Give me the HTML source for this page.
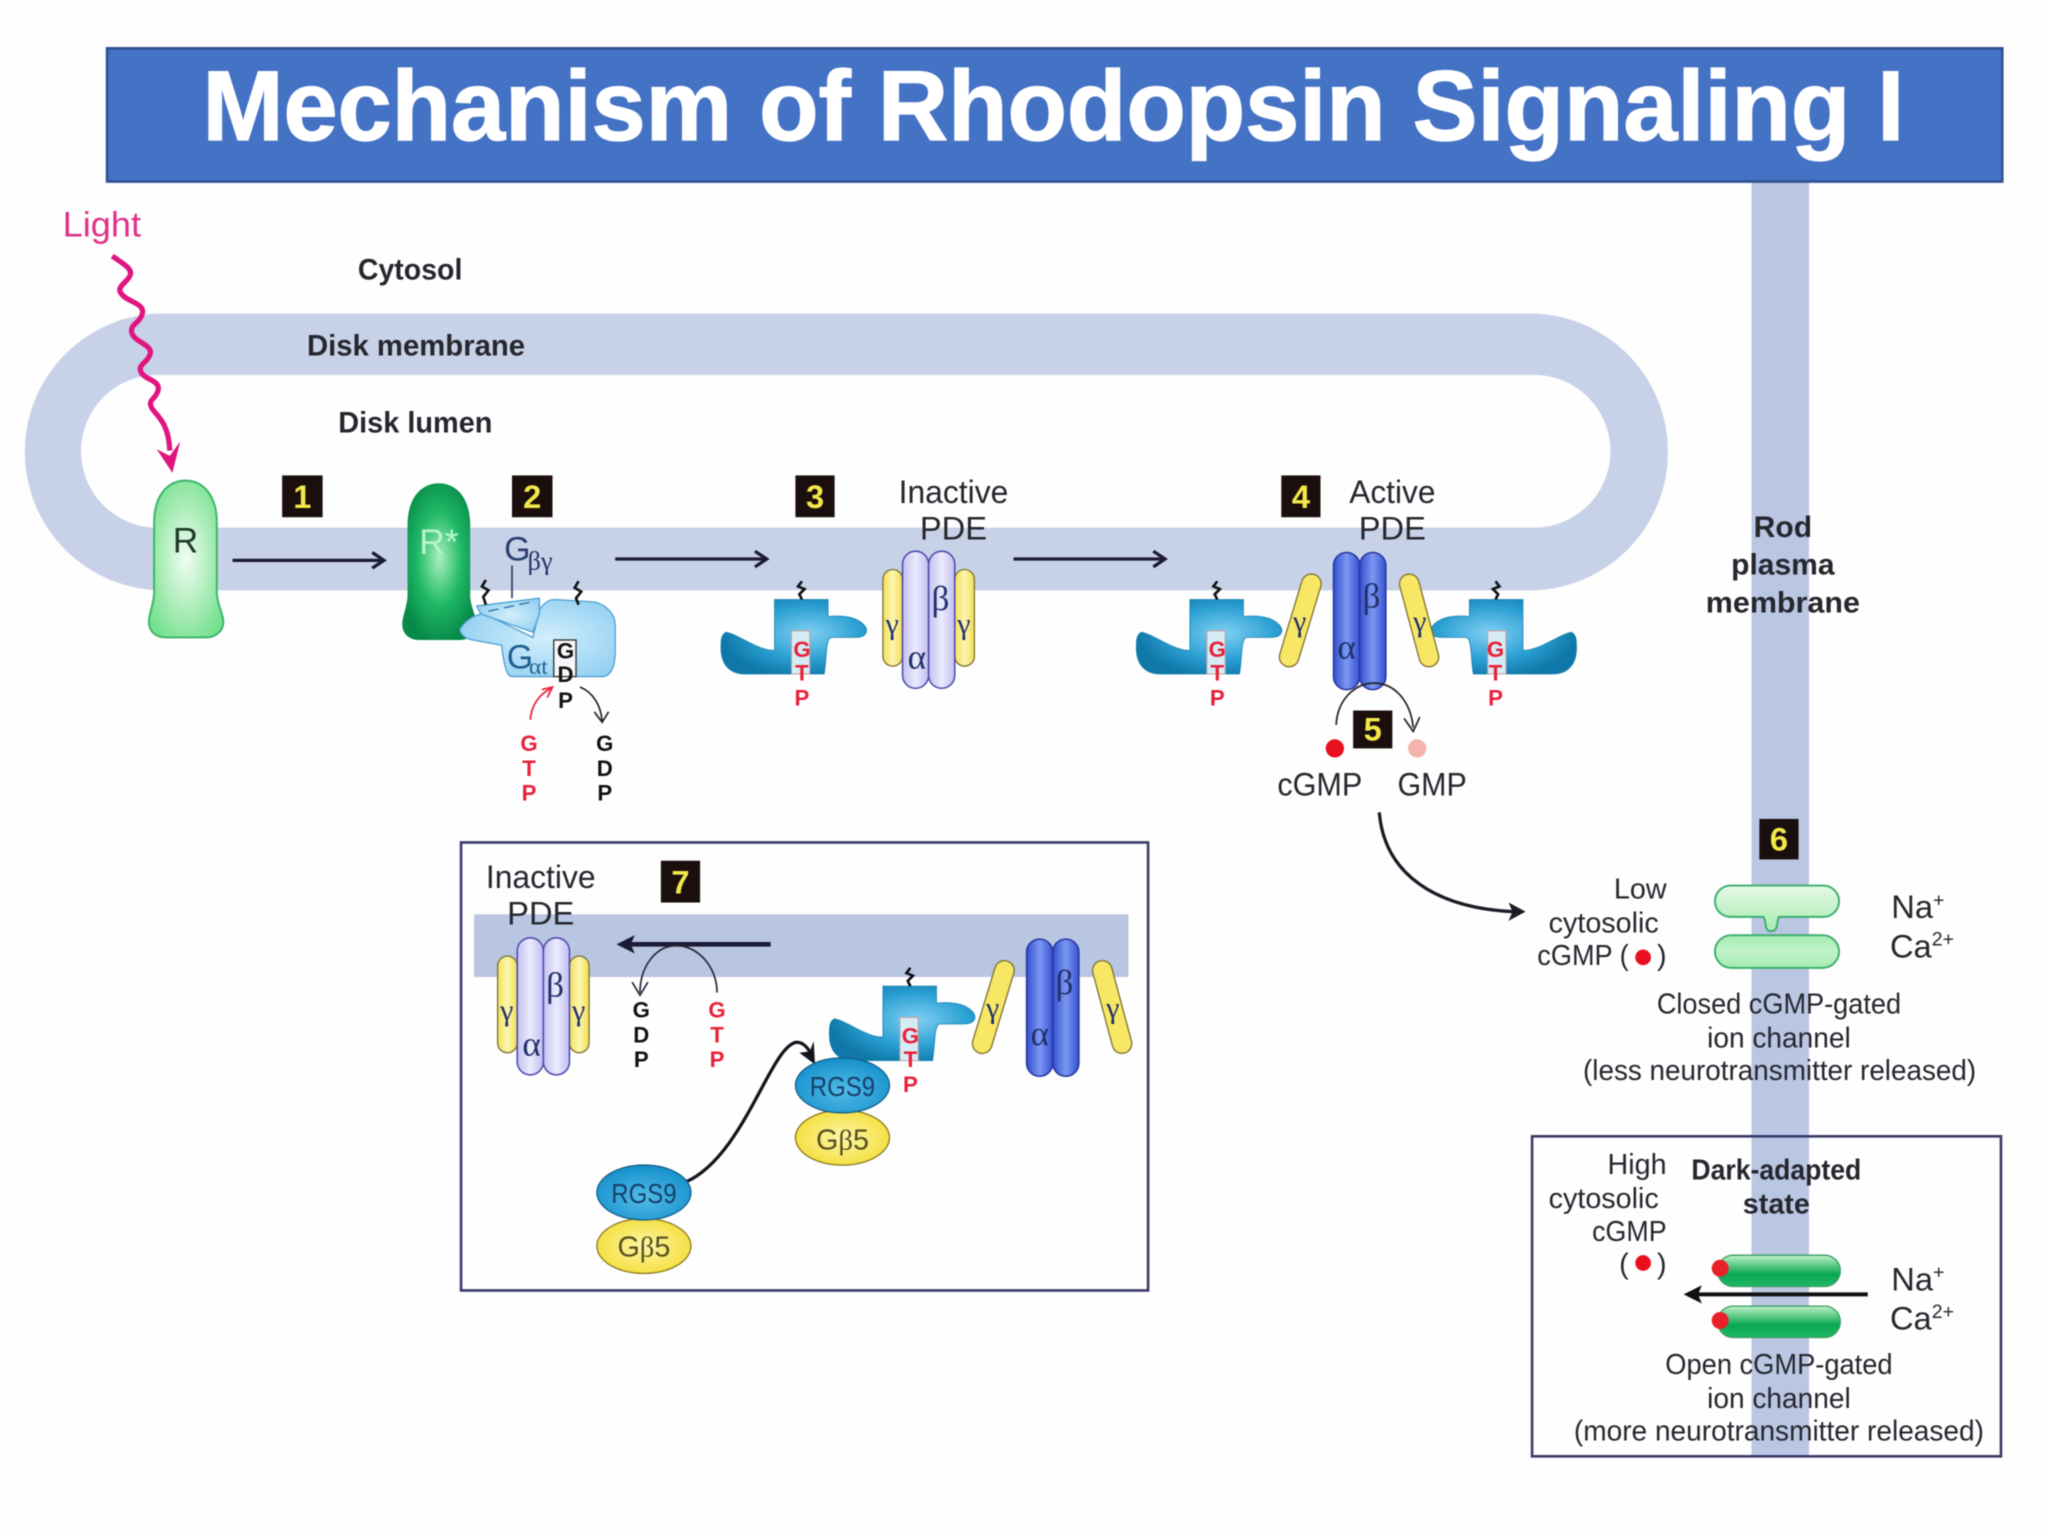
<!DOCTYPE html>
<html>
<head>
<meta charset="utf-8">
<title>Mechanism of Rhodopsin Signaling I</title>
<style>
html,body{margin:0;padding:0;background:#fff;width:2048px;height:1536px;overflow:hidden}
svg{display:block;filter:blur(.45px)}
text{font-family:"Liberation Sans",sans-serif;fill:#26262e}
.b{font-weight:bold}
.s{font-family:"Liberation Serif",serif;fill:#22306a}
.n{font-weight:bold;fill:#f3e84a;font-size:25px;text-anchor:middle}
.r{font-weight:bold;fill:#e8203a;font-size:17px;text-anchor:middle}
.k{font-weight:bold;fill:#111;font-size:17px;text-anchor:middle}
.m{text-anchor:middle}
.e{text-anchor:end}
</style>
</head>
<body>
<svg xmlns="http://www.w3.org/2000/svg" width="2048" height="1536" viewBox="0 0 1568 1176">
<defs>
<radialGradient id="gR" cx=".5" cy=".5" r=".6"><stop offset="0" stop-color="#f2fdf2"/><stop offset="1" stop-color="#74e08c"/></radialGradient>
<radialGradient id="gRs" cx=".5" cy=".48" r=".55"><stop offset="0" stop-color="#a8f0bc"/><stop offset=".55" stop-color="#1fb866"/><stop offset="1" stop-color="#078a48"/></radialGradient>
<radialGradient id="gA" cx=".6" cy=".45" r=".6"><stop offset="0" stop-color="#7fd0f4"/><stop offset=".6" stop-color="#2a9fd2"/><stop offset="1" stop-color="#0f78a8"/></radialGradient>
<radialGradient id="gL" cx=".55" cy=".5" r=".6"><stop offset="0" stop-color="#d2effc"/><stop offset="1" stop-color="#93d0f2"/></radialGradient>
<linearGradient id="gI" x1="0" x2="1" y1="0" y2="0"><stop offset="0" stop-color="#c3c0f0"/><stop offset=".5" stop-color="#ecebfd"/><stop offset="1" stop-color="#c0bdf0"/></linearGradient>
<linearGradient id="gV" x1="0" x2="1" y1="0" y2="0"><stop offset="0" stop-color="#3150cf"/><stop offset=".5" stop-color="#7c97f2"/><stop offset="1" stop-color="#3552d2"/></linearGradient>
<linearGradient id="gY" x1="0" x2="1" y1="0" y2="0"><stop offset="0" stop-color="#f5e25a"/><stop offset=".5" stop-color="#fbf5b0"/><stop offset="1" stop-color="#f3df50"/></linearGradient>
<linearGradient id="gC" x1="0" x2="0" y1="0" y2="1"><stop offset="0" stop-color="#e6f9e6"/><stop offset="1" stop-color="#a4ecb0"/></linearGradient>
<linearGradient id="gC2" x1="0" x2="0" y1="0" y2="1"><stop offset="0" stop-color="#a4ecb0"/><stop offset=".5" stop-color="#c2f2c8"/><stop offset="1" stop-color="#a4ecb0"/></linearGradient>
<linearGradient id="gO" x1="0" x2="0" y1="0" y2="1"><stop offset="0" stop-color="#bff2c8"/><stop offset=".6" stop-color="#0aa850"/><stop offset="1" stop-color="#22b868"/></linearGradient>
<radialGradient id="gB" cx=".5" cy=".6" r=".6"><stop offset="0" stop-color="#52bce8"/><stop offset="1" stop-color="#1590cc"/></radialGradient>
<radialGradient id="gG" cx=".5" cy=".5" r=".6"><stop offset="0" stop-color="#fdf6a8"/><stop offset="1" stop-color="#f4dc30"/></radialGradient>

<g id="ga">
  <path d="M556 484 C566 486 580 498 593 498 L593 459 L634 459 L634 472 C644 471 654 472 660 477 C666 482 664 488 655 488 L636 488 C632 490 633 505 631 516 L620 516 L620 483 L606 483 L606 516 L570 516 C558 516 552 508 552 496 C552 490 552 486 556 484 Z" fill="url(#gA)" stroke="#1680b0" stroke-width=".6"/>
  <rect x="606" y="483" width="14" height="33" fill="#d4ecf6" stroke="#c8a0a0" stroke-width=".8"/>
  <path d="M614 445 L611 449 L616 451 L612 455 L614 459" fill="none" stroke="#111" stroke-width="2"/>
</g>
<g id="pdeI">
  <rect x="676" y="436" width="15" height="74" rx="7.5" fill="url(#gY)" stroke="#7c7030" stroke-width="1"/>
  <rect x="731" y="436" width="15" height="74" rx="7.5" fill="url(#gY)" stroke="#7c7030" stroke-width="1"/>
  <rect x="691" y="422" width="20" height="105" rx="10" fill="url(#gI)" stroke="#4f4db0" stroke-width="1.2"/>
  <rect x="711" y="422" width="20" height="105" rx="10" fill="url(#gI)" stroke="#4f4db0" stroke-width="1.2"/>
</g>
<g id="pdeA">
  <rect x="1021" y="423" width="20" height="105" rx="10" fill="url(#gV)" stroke="#2a35a0" stroke-width="1.2"/>
  <rect x="1041" y="423" width="20" height="105" rx="10" fill="url(#gV)" stroke="#2a35a0" stroke-width="1.2"/>
  <line x1="1004" y1="447" x2="987" y2="503" stroke="#7c7030" stroke-width="16" stroke-linecap="round"/>
  <line x1="1004" y1="447" x2="987" y2="503" stroke="#f7e765" stroke-width="14" stroke-linecap="round"/>
  <line x1="1079" y1="447" x2="1094" y2="503" stroke="#7c7030" stroke-width="16" stroke-linecap="round"/>
  <line x1="1079" y1="447" x2="1094" y2="503" stroke="#f7e765" stroke-width="14" stroke-linecap="round"/>
</g>
</defs>

<rect width="1568" height="1176" fill="#fefefe"/>

<!-- rod plasma membrane -->
<rect x="1341" y="130" width="44" height="985" fill="#b9c7e3"/>

<!-- disk membrane -->
<path fill-rule="evenodd" fill="#c7d2e8" d="M125 240 H1171 A106 106 0 0 1 1171 452 H125 A106 106 0 0 1 125 240 Z M120.5 287 H1174.5 A58.5 58.5 0 0 1 1174.5 404 H120.5 A58.5 58.5 0 0 1 120.5 287 Z"/>

<!-- title -->
<rect x="82" y="37" width="1451" height="102" fill="#4472c4" stroke="#2f528f" stroke-width="2"/>
<text x="155" y="107" font-size="76" class="b" style="fill:#fff;stroke:#fff;stroke-width:1" textLength="1303" lengthAdjust="spacingAndGlyphs">Mechanism of Rhodopsin Signaling I</text>

<!-- light -->
<text x="48" y="181" font-size="27" style="fill:#e2308a" textLength="60" lengthAdjust="spacingAndGlyphs">Light</text>
<path d="M86 196 C94 202 103 206 99 212 C95 218 89 220 93 225 C97 231 111 232 109 240 C107 248 99 248 101 255 C103 262 117 264 115 271 C113 278 105 279 108 285 C111 291 123 291 121 299 C119 306 113 306 116 312 C119 318 129 322 130 345" fill="none" stroke="#e0157f" stroke-width="4"/>
<path d="M132 362 L120 344 L130 349 L138 338 Z" fill="#e0157f"/>

<text x="274" y="214" font-size="23" class="b" textLength="80" lengthAdjust="spacingAndGlyphs">Cytosol</text>
<text x="235" y="272" font-size="23" class="b" textLength="167" lengthAdjust="spacingAndGlyphs">Disk membrane</text>
<text x="259" y="331" font-size="23" class="b" textLength="118" lengthAdjust="spacingAndGlyphs">Disk lumen</text>

<!-- R -->
<path d="M118 400 C118 380 128 368 142 368 C156 368 166 380 166 400 L166 455 C167 465 171 470 171 476 C171 484 164 488 158 488 L127 488 C120 488 114 484 114 476 C114 470 117 465 118 455 Z" fill="url(#gR)" stroke="#3cb46a" stroke-width="1.5"/>
<text x="142" y="423" font-size="27" class="m" style="fill:#1f3a2a">R</text>

<!-- R* -->
<path d="M312 402 C312 382 322 370 336 370 C350 370 360 382 360 402 L360 457 C361 467 365 472 365 478 C365 486 358 490 352 490 L321 490 C314 490 308 486 308 478 C308 472 311 467 312 457 Z" fill="url(#gRs)"/>
<text x="336" y="424" font-size="27" class="m" style="fill:#b9f5c8">R*</text>

<!-- step arrows -->
<g fill="none" stroke="#1c1a35" stroke-width="2.5">
  <path d="M178 429 H293"/><path d="M285 423 L294 429 L285 435"/>
  <path d="M471 428 H586"/><path d="M578 422 L587 428 L578 434"/>
  <path d="M776 428 H891"/><path d="M883 422 L892 428 L883 434"/>
</g>

<!-- number badges -->
<g fill="#1a0f0d">
  <rect x="216" y="364" width="31" height="32"/>
  <rect x="392" y="364" width="31" height="32"/>
  <rect x="609" y="364" width="30" height="32"/>
  <rect x="981" y="364" width="30" height="32"/>
  <rect x="1036" y="544" width="30" height="29"/>
  <rect x="1347" y="627" width="30" height="31"/>
</g>
<text x="231.5" y="389" class="n">1</text>
<text x="407.5" y="389" class="n">2</text>
<text x="624" y="389" class="n">3</text>
<text x="996" y="389" class="n">4</text>
<text x="1051" y="567" class="n">5</text>
<text x="1362" y="651" class="n">6</text>

<!-- G protein step 2 -->
<path d="M352 482 C356 475 364 470 371 470 L408 488 L413 467 C416 462 420 459 425 459 L456 461 C465 464 471 470 471 479 L471 499 C471 510 468 517 462 518 L441 518 L441 490 L424 490 L424 518 L392 518 C388 518 386 510 384 494 L362 490 C356 489 353 486 352 482 Z" fill="url(#gL)" stroke="#4f9fd0" stroke-width="1"/>
<rect x="424" y="490" width="17" height="28" fill="#f5f7fa" stroke="#333" stroke-width="1"/>
<path d="M365 464 L413 458 L413 470 L408 484 L368 470 Z" fill="url(#gL)" stroke="#4f9fd0" stroke-width="1"/>
<path d="M374 468 L406 461" fill="none" stroke="#2e6ea0" stroke-width="1" stroke-dasharray="8 4"/>
<line x1="392" y1="433" x2="392" y2="458" stroke="#27305c" stroke-width="1.2"/>
<path d="M372 444 L369 449 L374 452 L370 457 L372 463" fill="none" stroke="#111" stroke-width="2"/>
<path d="M443 445 L440 450 L445 453 L441 458 L443 463" fill="none" stroke="#111" stroke-width="2"/>
<text x="386" y="429" font-size="26" style="fill:#2b3e70">G</text>
<text x="404" y="436" font-size="20" class="s">βγ</text>
<text x="388" y="512" font-size="26" style="fill:#1f5f90">G</text>
<text x="405" y="516" font-size="18" class="s" style="fill:#1f5f90">αt</text>
<text x="433" y="504" class="k">G</text>
<text x="433" y="522" class="k">D</text>
<text x="433" y="542" class="k">P</text>
<path d="M406 551 C407 540 412 532 422 527" fill="none" stroke="#e8203a" stroke-width="1.3"/>
<path d="M415 528 L423 526 L419 534" fill="none" stroke="#e8203a" stroke-width="1.3"/>
<path d="M444 526 C454 530 460 540 461 552" fill="none" stroke="#222" stroke-width="1.3"/>
<path d="M455 545 L461 553 L466 545" fill="none" stroke="#222" stroke-width="1.3"/>
<text x="405" y="575" class="r">G</text><text x="405" y="594" class="r">T</text><text x="405" y="613" class="r">P</text>
<text x="463" y="575" class="k">G</text><text x="463" y="594" class="k">D</text><text x="463" y="613" class="k">P</text>

<!-- step 3 -->
<use href="#ga"/>
<text x="614" y="503" class="r">G</text><text x="614" y="521" class="r">T</text><text x="614" y="540" class="r">P</text>
<use href="#pdeI"/>
<text x="702" y="512" font-size="27" class="s m">α</text>
<text x="720" y="467" font-size="27" class="s m">β</text>
<text x="683" y="485" font-size="23" class="s m">γ</text>
<text x="738" y="485" font-size="23" class="s m">γ</text>
<text x="730" y="385" font-size="25" class="m" textLength="84" lengthAdjust="spacingAndGlyphs">Inactive</text>
<text x="730" y="413" font-size="25" class="m">PDE</text>

<!-- step 4 -->
<use href="#ga" x="318"/>
<g transform="translate(1759,0) scale(-1,1)"><use href="#ga"/></g>
<use href="#pdeA"/>
<text x="932" y="503" class="r">G</text><text x="932" y="521" class="r">T</text><text x="932" y="540" class="r">P</text>
<text x="1145" y="503" class="r">G</text><text x="1145" y="521" class="r">T</text><text x="1145" y="540" class="r">P</text>
<text x="1031" y="504" font-size="27" class="s m">α</text>
<text x="1050" y="465" font-size="27" class="s m">β</text>
<text x="995" y="483" font-size="23" class="s m">γ</text>
<text x="1087" y="483" font-size="23" class="s m">γ</text>
<text x="1033" y="385" font-size="25" textLength="66" lengthAdjust="spacingAndGlyphs">Active</text>
<text x="1066" y="413" font-size="25" class="m">PDE</text>

<!-- step 5 -->
<path d="M1023 555 C1024 535 1038 523 1052 523 C1068 523 1080 537 1082 557" fill="none" stroke="#222" stroke-width="1.3"/>
<path d="M1075 550 L1082 560 L1087 549" fill="none" stroke="#222" stroke-width="1.3"/>
<circle cx="1022" cy="573" r="7" fill="#e8101e"/>
<circle cx="1085" cy="573" r="7" fill="#f6b3ab"/>
<text x="978" y="609" font-size="25" textLength="65" lengthAdjust="spacingAndGlyphs">cGMP</text>
<text x="1070" y="609" font-size="25" textLength="53" lengthAdjust="spacingAndGlyphs">GMP</text>
<path d="M1056 622 C1060 670 1100 695 1158 698" fill="none" stroke="#1c1a25" stroke-width="2.5"/>
<path d="M1168 698 L1155 691 L1158 698 L1155 705 Z" fill="#1c1a25"/>

<!-- Rod plasma membrane label -->
<text x="1365" y="411" font-size="23" class="b m">Rod</text>
<text x="1365" y="440" font-size="23" class="b m">plasma</text>
<text x="1365" y="469" font-size="23" class="b m" textLength="118" lengthAdjust="spacingAndGlyphs">membrane</text>

<!-- closed channel -->
<path d="M1325 678 H1396 A12 12 0 0 1 1396 702 H1362 C1360 705 1362 713 1356 713 C1350 713 1353 705 1350 702 H1325 A12 12 0 0 1 1325 678 Z" fill="url(#gC)" stroke="#3cae6e" stroke-width="1.5"/>
<rect x="1313" y="716" width="95" height="25" rx="12.5" fill="url(#gC2)" stroke="#3cae6e" stroke-width="1.5"/>
<text x="1276" y="688" font-size="22" class="e">Low</text>
<text x="1270" y="714" font-size="22" class="e">cytosolic</text>
<text x="1247" y="739" font-size="22" class="e" textLength="70" lengthAdjust="spacingAndGlyphs">cGMP (</text>
<circle cx="1258" cy="733" r="6" fill="#e8101e"/>
<text x="1276" y="739" font-size="22" class="e">)</text>
<text x="1448" y="703" font-size="25">Na<tspan font-size="15" dy="-9">+</tspan></text>
<text x="1447" y="733" font-size="25">Ca<tspan font-size="15" dy="-9">2+</tspan></text>
<text x="1362" y="776" font-size="22" class="m" textLength="187" lengthAdjust="spacingAndGlyphs">Closed cGMP-gated</text>
<text x="1362" y="802" font-size="22" class="m" textLength="110" lengthAdjust="spacingAndGlyphs">ion channel</text>
<text x="1212" y="827" font-size="22" textLength="301" lengthAdjust="spacingAndGlyphs">(less neurotransmitter released)</text>

<!-- dark-adapted box -->
<rect x="1173" y="870" width="359" height="245" fill="none" stroke="#3a3a6b" stroke-width="2"/>
<text x="1276" y="899" font-size="22" class="e">High</text>
<text x="1270" y="925" font-size="22" class="e">cytosolic</text>
<text x="1276" y="950" font-size="22" class="e" textLength="57" lengthAdjust="spacingAndGlyphs">cGMP</text>
<text x="1247" y="975" font-size="22" class="e">(</text>
<circle cx="1258" cy="967" r="6" fill="#e8101e"/>
<text x="1276" y="975" font-size="22" class="e">)</text>
<text x="1360" y="903" font-size="22" class="b m" textLength="130" lengthAdjust="spacingAndGlyphs">Dark-adapted</text>
<text x="1360" y="929" font-size="22" class="b m">state</text>
<rect x="1315" y="961" width="94" height="24" rx="12" fill="url(#gO)" stroke="#3a9c62" stroke-width="1"/>
<rect x="1315" y="1000" width="94" height="24" rx="12" fill="url(#gO)" stroke="#3a9c62" stroke-width="1"/>
<circle cx="1317" cy="971" r="6.5" fill="#e8202a"/>
<circle cx="1317" cy="1011" r="6.5" fill="#e8202a"/>
<path d="M1430 991 H1298" stroke="#111" stroke-width="3" fill="none"/>
<path d="M1289 991 L1303 984 L1300 991 L1303 998 Z" fill="#111"/>
<text x="1448" y="988" font-size="25">Na<tspan font-size="15" dy="-9">+</tspan></text>
<text x="1447" y="1018" font-size="25">Ca<tspan font-size="15" dy="-9">2+</tspan></text>
<text x="1362" y="1052" font-size="22" class="m" textLength="174" lengthAdjust="spacingAndGlyphs">Open cGMP-gated</text>
<text x="1362" y="1078" font-size="22" class="m" textLength="110" lengthAdjust="spacingAndGlyphs">ion channel</text>
<text x="1205" y="1103" font-size="22" textLength="314" lengthAdjust="spacingAndGlyphs">(more neurotransmitter released)</text>

<!-- inset -->
<rect x="353" y="645" width="526" height="343" fill="#fefefe" stroke="#3a3a6b" stroke-width="2"/>
<rect x="363" y="700" width="501" height="48" fill="#b8c6e2"/>
<rect x="506" y="659" width="30" height="32" fill="#1a0f0d"/>
<text x="521" y="684" class="n">7</text>
<text x="414" y="680" font-size="25" class="m" textLength="84" lengthAdjust="spacingAndGlyphs">Inactive</text>
<text x="414" y="708" font-size="25" class="m">PDE</text>
<use href="#pdeI" x="-295" y="296"/>
<text x="407" y="808" font-size="27" class="s m">α</text>
<text x="425" y="763" font-size="27" class="s m">β</text>
<text x="388" y="781" font-size="23" class="s m">γ</text>
<text x="443" y="781" font-size="23" class="s m">γ</text>
<path d="M590 723 H482" stroke="#1c1a35" stroke-width="3.5" fill="none"/>
<path d="M472 723 L486 716 L483 723 L486 730 Z" fill="#1c1a35"/>
<path d="M549 760 C549 740 534 724 518 724 C502 724 490 740 490 760" fill="none" stroke="#2a2a3a" stroke-width="1.3"/>
<path d="M484 752 L490 762 L496 752" fill="none" stroke="#2a2a3a" stroke-width="1.3"/>
<text x="491" y="779" class="k">G</text><text x="491" y="798" class="k">D</text><text x="491" y="817" class="k">P</text>
<text x="549" y="779" class="r">G</text><text x="549" y="798" class="r">T</text><text x="549" y="817" class="r">P</text>
<use href="#ga" x="83" y="296"/>
<text x="697" y="799" class="r">G</text><text x="697" y="817" class="r">T</text><text x="697" y="836" class="r">P</text>
<use href="#pdeA" x="-235" y="296"/>
<text x="796" y="800" font-size="27" class="s m">α</text>
<text x="815" y="761" font-size="27" class="s m">β</text>
<text x="760" y="779" font-size="23" class="s m">γ</text>
<text x="852" y="779" font-size="23" class="s m">γ</text>
<path d="M525 905 C570 885 590 800 610 798 C616 798 620 804 622 810" fill="none" stroke="#14141c" stroke-width="2.5"/>
<path d="M624 815 L612 806 L620 805 L623 797 Z" fill="#14141c"/>
<ellipse cx="645" cy="871" rx="36" ry="21" fill="url(#gG)" stroke="#8a7a20" stroke-width="1"/>
<ellipse cx="645" cy="831" rx="36" ry="21" fill="url(#gB)" stroke="#14608a" stroke-width="1"/>
<ellipse cx="493" cy="954" rx="36" ry="21" fill="url(#gG)" stroke="#8a7a20" stroke-width="1"/>
<ellipse cx="493" cy="913" rx="36" ry="21" fill="url(#gB)" stroke="#14608a" stroke-width="1"/>
<text x="645" y="839" font-size="21" class="m" style="fill:#16406a" textLength="50" lengthAdjust="spacingAndGlyphs">RGS9</text>
<text x="493" y="921" font-size="21" class="m" style="fill:#16406a" textLength="50" lengthAdjust="spacingAndGlyphs">RGS9</text>
<text x="645" y="880" font-size="22" class="m" style="fill:#555020">G<tspan font-family="Liberation Serif">β</tspan>5</text>
<text x="493" y="962" font-size="22" class="m" style="fill:#555020">G<tspan font-family="Liberation Serif">β</tspan>5</text>
</svg>
</body>
</html>
